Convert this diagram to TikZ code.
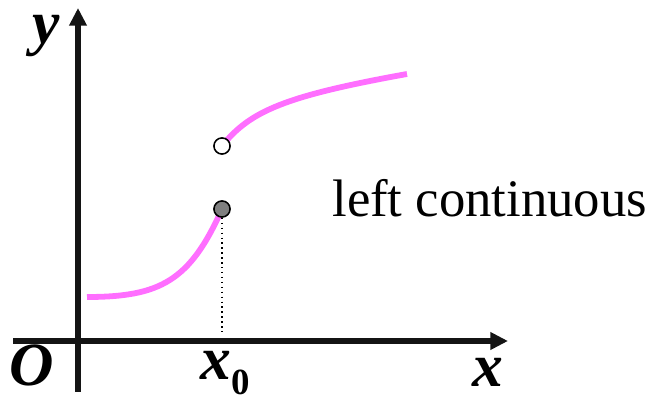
\documentclass[tikz,border=0pt]{standalone}
\usepackage{fontspec}
\setmainfont{Liberation Serif}
\usepackage{tikz}
\usetikzlibrary{arrows.meta, positioning, calc}
\definecolor{BranchPink}{HTML}{FF6EFF}
\definecolor{DotGrey}{HTML}{7F7F7F}
\newcommand{\lblfont}{\fontsize{35}{38}\selectfont\bfseries\itshape}

\begin{document}
\begin{tikzpicture}[>={Triangle[length=10pt, width=9.5pt]},
    axis/.style={->, line width=3.2pt, black!92},
    branch/.style={line width=3.3pt, BranchPink},
    endpt/.style={circle, draw, line width=0.9pt, minimum size=9.2pt, inner sep=0pt},
    axlbl/.style={font=\lblfont, inner sep=0pt, anchor=base}]
    \useasboundingbox (0,0) rectangle (13.06,7.92);

    % Axes
    \coordinate (xstart) at (0.26,1.1);
    \coordinate (xend) at (10.16,1.1);
    \coordinate (ystart) at (1.56,0.08);
    \coordinate (yend) at (1.56,7.76);
    \draw [axis] (xstart) -- (xend);
    \draw [axis] (ystart) -- (yend);

    % Branch left of x0 (ends in the filled point)
    \coordinate (lowstart) at (1.74,1.98);
    \coordinate (lowend) at (4.44,3.74);
    \draw [branch] (lowstart) .. controls (3.2,1.98) and (3.8,2.3) .. (lowend);

    % Branch right of x0 (starts in the open point)
    \coordinate (highstart) at (4.44,5.0);
    \coordinate (highend) at (8.14,6.44);
    \draw [branch] (highstart) .. controls (5.0,5.7) and (5.7,6.0) .. (highend);

    % Jump points
    \node [endpt, fill=DotGrey] (filled) at (lowend) {};
    \node [endpt, fill=white] (open) at (highstart) {};
    \coordinate (foot) at (4.44,1.24);
    \draw [dotted, line width=0.8pt] (filled.south) -- (foot);

    % Labels
    \node [axlbl] (ylab) at (0.92,7.04) {y};
    \node [axlbl] (olab) at (0.64,0.2) {O};
    \node [axlbl] (xlab) at (9.76,0.18) {x};
    \node [axlbl, anchor=base west] (xnought) at (4.0,0.32)
        {x{\upshape\fontsize{21}{21}\selectfont\raisebox{-8pt}{0}}};
    \node [font=\fontsize{30}{34}\selectfont, inner sep=0pt, anchor=base west]
        (caption) at (6.64,3.58) {left continuous};
\end{tikzpicture}
\end{document}
